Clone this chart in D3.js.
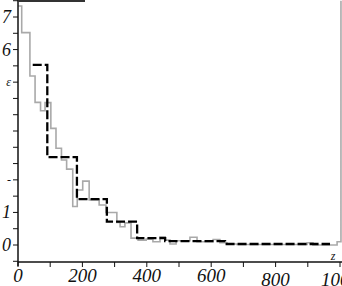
<!DOCTYPE html>
<html>
<head>
<meta charset="utf-8">
<script src="https://cdn.jsdelivr.net/npm/d3@7"></script>
<style>
  body { margin: 0; background: #fff; }
  svg { display: block; }
  .lbl { font-family: "Liberation Serif", "DejaVu Serif", serif; font-style: italic; fill: #111; }
</style>
</head>
<body>
<div id="chart"></div>
<script>
// bin edges / heights
const grayEdges = [0, 11.5, 37, 53, 70, 84, 102, 118, 135, 151, 170, 184, 201, 221, 252, 273, 307, 317, 332, 351, 373, 398, 419, 441, 457, 472, 491, 534, 556, 606, 627, 649, 680, 898, 916, 991, 1003];
const grayValues = [7.34, 6.52, 5.19, 4.38, 4.12, 4.37, 3.58, 2.97, 2.61, 2.33, 1.18, 1.69, 1.96, 1.38, 1.23, 1.00, 0.69, 0.56, 0.68, 0.21, 0.15, 0.18, 0.10, 0.25, 0.15, 0.03, 0.13, 0.24, 0.10, 0.17, 0.07, 0.03, 0.015, 0.07, 0.0, 0.10];
const grayEndValue = 7.5;

const blackEdges = [45.7, 91, 183, 276, 370, 457, 643, 969];
const blackValues = [5.53, 2.70, 1.41, 0.72, 0.21, 0.12, 0.03];

const xTicks = [0, 200, 400, 600, 800, 1000];
const xMinor = [100, 300, 500, 700, 900];
const yTickLabels = [[0, "0"], [1, "1"], [2, "-"], [5, "ε"], [6, "6"], [7, "7"]];

const W = 342, H = 286;
const svg = d3.select("#chart").append("svg").attr("width", W).attr("height", H);

const x = d3.scaleLinear().domain([0, 1000]).range([18, 340]);
const y = d3.scaleLinear().domain([0, 7]).range([245, 17]);

function stepPoints(edges, vals) {
  const pts = [];
  vals.forEach(function(v, i) {
    pts.push([edges[i], v]);
    pts.push([edges[i + 1], v]);
  });
  return pts;
}

const line = d3.line().x(d => x(d[0])).y(d => y(d[1]));

// gray series
const gp = stepPoints(grayEdges, grayValues);
gp.push([grayEdges[grayEdges.length - 1], grayEndValue]);
svg.append("path")
  .attr("d", line(gp))
  .attr("fill", "none")
  .attr("stroke", "#a9a9a9")
  .attr("stroke-width", 1.6);

// dashed series
svg.append("path")
  .attr("d", line(stepPoints(blackEdges, blackValues)))
  .attr("fill", "none")
  .attr("stroke", "#000")
  .attr("stroke-width", 2.3)
  .attr("stroke-dasharray", "9,3");

// axes
const axisY = 262;
svg.append("line").attr("x1", 18).attr("x2", W).attr("y1", axisY).attr("y2", axisY)
  .attr("stroke", "#111").attr("stroke-width", 1.5);
svg.append("line").attr("x1", 18).attr("x2", 18).attr("y1", 0).attr("y2", 266)
  .attr("stroke", "#111").attr("stroke-width", 1.5);
// top frame piece
svg.append("line").attr("x1", 18).attr("x2", 85).attr("y1", 1).attr("y2", 1)
  .attr("stroke", "#333").attr("stroke-width", 2);

svg.selectAll(".xt").data(xTicks.concat(xMinor)).enter().append("line")
  .attr("x1", d => x(d)).attr("x2", d => x(d))
  .attr("y1", axisY).attr("y2", axisY + 5)
  .attr("stroke", "#111").attr("stroke-width", 1);

svg.selectAll(".xl").data(xTicks).enter().append("text")
  .attr("class", "lbl")
  .attr("x", d => x(d))
  .attr("y", d => d >= 800 ? 286 : 282)
  .attr("text-anchor", "middle")
  .attr("font-size", 19)
  .text(d => d);

const yTicks = d3.range(-0.5, 7.51, 0.5);
svg.selectAll(".yt").data(yTicks).enter().append("line")
  .attr("x1", 13).attr("x2", 18)
  .attr("y1", d => y(d)).attr("y2", d => y(d))
  .attr("stroke", "#111").attr("stroke-width", 1);

svg.selectAll(".yl").data(yTickLabels).enter().append("text")
  .attr("class", "lbl")
  .attr("x", 11)
  .attr("y", d => y(d[0]) + (d[1] === "ε" || d[1] === "-" ? 4 : 6))
  .attr("text-anchor", "end")
  .attr("font-size", d => (d[1] === "ε" || d[1] === "-") ? 12 : 18)
  .text(d => d[1]);

svg.append("text")
  .attr("class", "lbl")
  .attr("x", 333).attr("y", 260)
  .attr("text-anchor", "middle")
  .attr("font-size", 12)
  .attr("fill", "#444")
  .text("z");
</script>
</body>
</html>
